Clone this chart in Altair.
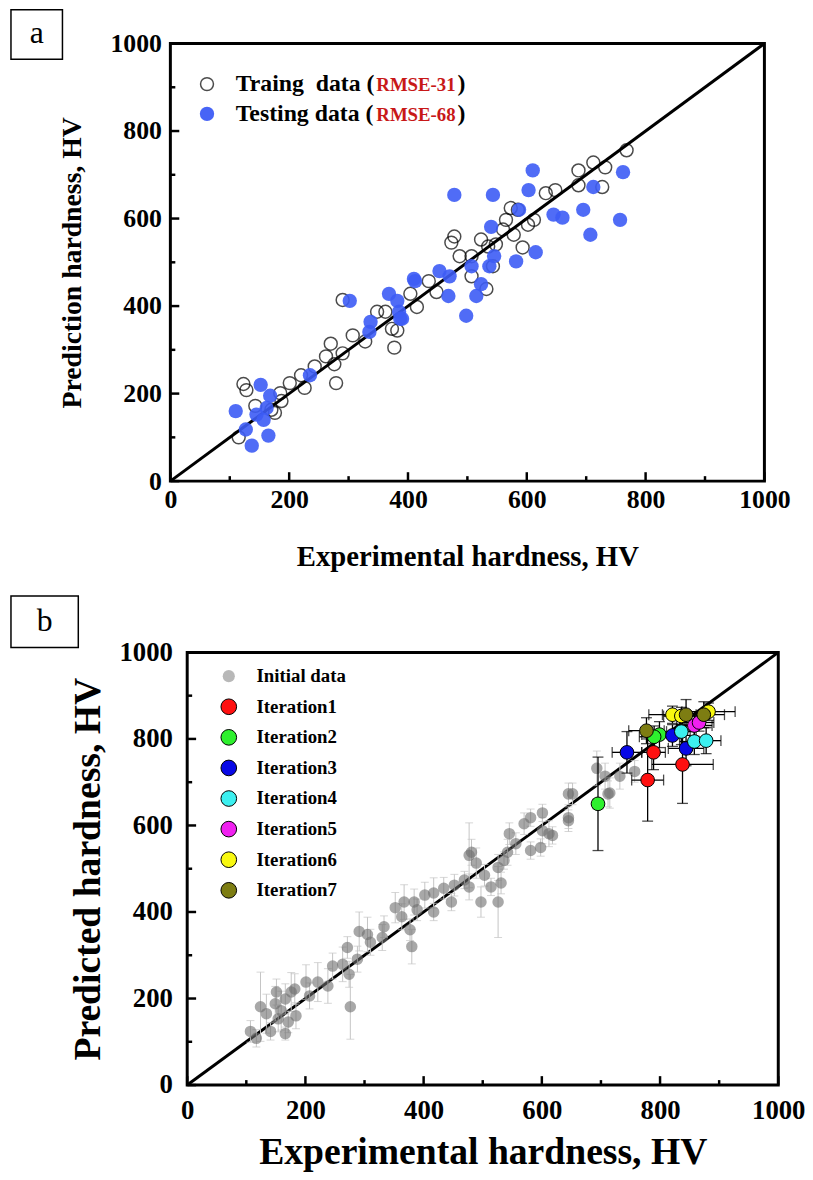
import altair as alt
import pandas as pd

FONT = "Liberation Serif"

# ---------------- Panel a data ----------------
train_x = [123, 128, 115, 143, 170, 176, 187, 185, 201, 226, 220, 243, 262, 270, 276, 279, 290, 290,
           307, 328, 348, 362, 373, 377, 382, 415, 404, 435, 448, 478, 473, 487, 507, 507, 523, 535,
           543, 532, 548, 565, 573, 578, 593, 602, 612, 632, 648, 687, 687, 712, 732, 727, 768, 585, 560]
train_y = [222, 208, 100, 172, 163, 156, 183, 201, 224, 213, 242, 262, 285, 314, 267, 224, 292, 414,
           333, 319, 387, 387, 348, 305, 344, 398, 428, 457, 432, 559, 545, 514, 514, 468, 552, 536,
           491, 439, 541, 597, 624, 563, 534, 586, 597, 658, 665, 710, 676, 728, 717, 672, 756, 620, 575]

test_x = [110, 127, 137, 152, 145, 157, 165, 168, 162, 235, 302, 337, 335, 368, 385, 387, 410, 382,
          390, 412, 453, 470, 468, 478, 498, 515, 523, 537, 545, 543, 540, 582, 615, 587, 603, 610,
          645, 660, 695, 707, 712, 762, 757, 507]
test_y = [160, 118, 81, 220, 152, 140, 104, 195, 167, 242, 412, 364, 341, 428, 387, 371, 462, 412,
          371, 457, 480, 468, 423, 654, 378, 423, 450, 491, 514, 654, 581, 502, 523, 620, 665, 710,
          609, 602, 620, 563, 672, 706, 597, 491]

legend_a_labels = ["Traing\u00a0\u00a0data (", "Testing data ("]
legend_a_rmse = ["RMSE-31", "RMSE-68"]

# ---------------- Panel b data ----------------
init_x = [107, 117, 124, 134, 141, 149, 154, 159, 166, 171, 166, 176, 184, 182, 151, 201, 207, 221,
          238, 246, 263, 271, 274, 276, 288, 291, 305, 310, 333, 330, 352, 367, 363, 377, 380, 384,
          389, 402, 417, 417, 434, 447, 452, 469, 477, 477, 489, 497, 503, 514, 526, 531, 526, 536,
          545, 542, 556, 570, 581, 598, 601, 618, 645, 652, 645, 612, 601, 581, 481, 712, 693, 707,
          732, 715, 757, 645]
init_y = [124, 108, 181, 165, 124, 188, 153, 172, 199, 146, 119, 215, 160, 222, 215, 238, 206, 238,
          229, 275, 279, 318, 256, 181, 291, 355, 348, 330, 366, 341, 410, 423, 389, 359, 320, 423,
          405, 439, 444, 400, 455, 423, 462, 474, 531, 458, 513, 423, 485, 458, 423, 467, 503, 519,
          581, 538, 558, 604, 542, 549, 588, 577, 611, 673, 618, 581, 629, 618, 538, 673, 732, 714,
          714, 675, 725, 673]
init_err = [25, 20, 80, 45, 20, 40, 30, 45, 35, 25, 15, 45, 30, 35, 30, 40, 30, 45,
            40, 30, 40, 25, 30, 75, 30, 45, 40, 30, 25, 30, 35, 40, 30, 25, 40, 30,
            25, 30, 35, 20, 25, 20, 25, 20, 75, 30, 35, 35, 25, 20, 82, 25, 30, 20,
            25, 30, 25, 25, 20, 20, 30, 20, 25, 25, 25, 30, 20, 20, 30, 30, 40, 30,
            30, 35, 25, 25]

iter_names = ["Iteration1", "Iteration2", "Iteration3", "Iteration4", "Iteration5", "Iteration6", "Iteration7"]
iter_colors = ["#ff1010", "#2ef02e", "#0808e6", "#3cf0f0", "#f020f0", "#f8f810", "#7d7d12"]
iter_x = [[779, 789, 838], [695, 799, 790], [744, 821, 844], [858, 878, 836],
          [858, 866], [821, 882, 836], [777, 844, 874]]
iter_y = [[705, 769, 741], [650, 810, 805], [769, 808, 778], [794, 796, 817],
          [831, 838], [856, 863, 853], [819, 856, 856]]
iter_xerr = [[27, 20, 52], [8, 30, 25], [25, 30, 30], [25, 25, 25],
             [30, 25], [40, 45, 30], [30, 40, 35]]
iter_yerr = [[95, 40, 90], [108, 30, 25], [48, 25, 40], [30, 30, 30],
             [25, 20], [20, 20, 20], [30, 35, 30]]

major_ticks = [0, 200, 400, 600, 800, 1000]
minor_ticks = [100, 300, 500, 700, 900]
diag = [0, 1000]

BLUE = "#3d5cf5"
GREY = "#6e6e6e"

one = pd.DataFrame({"a": [0]})


def txt(s, x, y, size, color="black", weight="bold", align="left", font=FONT):
    return alt.Chart(one).mark_text(text=s, font=font, fontSize=size, fontWeight=weight,
                                    color=color, align=align, baseline="middle").encode(
        x=alt.value(x), y=alt.value(y))


def axis(title, tsize, lsize, lpad, tpad, offset=0):
    return alt.Axis(values=major_ticks, format="d", title=title, labelFont=FONT, labelFontSize=lsize,
                    labelFontWeight="bold", labelColor="black", labelPadding=lpad, labelFlush=False,
                    labelOverlap=False, ticks=False, tickSize=0, domain=False, grid=False,
                    titleFont=FONT, titleFontSize=tsize, titleFontWeight="bold", titleColor="black",
                    titlePadding=tpad, offset=offset)


def tick_layers(sx, sy, ax, ay, H, x0):
    dmaj = pd.DataFrame({"v": major_ticks})
    dmin = pd.DataFrame({"v": minor_ticks})
    layers = []
    for d, L in ((dmaj, 9), (dmin, 5)):
        layers.append(alt.Chart(d).mark_rule(color="black", strokeWidth=2.5).encode(
            x=alt.X("v:Q", scale=sx, axis=ax), y=alt.value(H), y2=alt.value(H - L)))
        layers.append(alt.Chart(d).mark_rule(color="black", strokeWidth=2.5).encode(
            y=alt.Y("v:Q", scale=sy, axis=ay), x=alt.value(x0), x2=alt.value(x0 + L)))
    return layers


# ---------------- Panel a ----------------
WA, HA = 600, 442
sxa = alt.Scale(domain=[0, 1000], nice=False)
sya = alt.Scale(domain=[0, 1000], nice=False)
axa_x = axis("Experimental hardness, HV", 29, 26, 6, 30)
axa_y = axis("Prediction hardness, HV", 28, 26, 9, 24)


def XA(f):
    return alt.X(f, scale=sxa, axis=axa_x)


def YA(f):
    return alt.Y(f, scale=sya, axis=axa_y)


diag_a = alt.Chart(pd.DataFrame({"x": diag, "y": diag})).mark_line(color="black", strokeWidth=3).encode(
    x=XA("x:Q"), y=YA("y:Q"))
train = alt.Chart(pd.DataFrame({"x": train_x, "y": train_y})).mark_point(
    shape="circle", filled=False, color="black", size=170, strokeWidth=1.5).encode(x=XA("x:Q"), y=YA("y:Q"))
test = alt.Chart(pd.DataFrame({"x": test_x, "y": test_y})).mark_circle(
    color=BLUE, size=210, opacity=0.9).encode(x=XA("x:Q"), y=YA("y:Q"))

frame_a = alt.Chart(one).mark_rect(fillOpacity=0, stroke="black", strokeWidth=3).encode(
    x=alt.value(0), x2=alt.value(WA), y=alt.value(0), y2=alt.value(HA))

leg_a = [
    alt.Chart(one).mark_point(shape="circle", filled=False, color="black", size=170, strokeWidth=1.5).encode(
        x=alt.value(37), y=alt.value(41)),
    alt.Chart(one).mark_circle(color=BLUE, size=210, opacity=0.95).encode(x=alt.value(37), y=alt.value(71)),
]
for i, (lab, r) in enumerate(zip(legend_a_labels, legend_a_rmse)):
    yy = 41 + 30 * i
    leg_a += [txt(lab, 66, yy, 24), txt(r, 208, yy + 1, 19, color="#c81818"), txt(")", 290, yy, 24)]

box_a = [
    alt.Chart(one).mark_rect(fillOpacity=0, stroke="black", strokeWidth=1.5).encode(
        x=alt.value(-161), x2=alt.value(-109), y=alt.value(-34), y2=alt.value(16)),
    txt("a", -135, -11, 32, weight="normal", align="center"),
]

panel_a = alt.layer(diag_a, train, test, *tick_layers(sxa, sya, axa_x, axa_y, HA, 0), frame_a,
                    *leg_a, *box_a).properties(width=WA, height=HA)

# ---------------- Panel b ----------------
OFF = 17
WBP, HB = 597, 437
WB = WBP + OFF
sxb = alt.Scale(domain=[0, 1000], range=[OFF, WB], nice=False)
syb = alt.Scale(domain=[0, 1000], nice=False)
axb_x = axis("Experimental hardness, HV", 38, 27, 13, 10)
axb_y = axis("Predicted hardness, HV", 38, 27, 15, 12, offset=-OFF)


def XB(f):
    return alt.X(f, scale=sxb, axis=axb_x)


def YB(f):
    return alt.Y(f, scale=syb, axis=axb_y)


diag_b = alt.Chart(pd.DataFrame({"x": diag, "y": diag})).mark_line(color="black", strokeWidth=3).encode(
    x=XB("x:Q"), y=YB("y:Q"))

dinit = pd.DataFrame({"x": init_x, "y": init_y, "e": init_err})
dinit["lo"] = dinit["y"] - dinit["e"]
dinit["hi"] = dinit["y"] + dinit["e"]
init_bars = alt.Chart(dinit).mark_rule(color="#c4c4c4", strokeWidth=1).encode(
    x=XB("x:Q"), y=YB("lo:Q"), y2="hi:Q")
init_caps = alt.Chart(dinit).transform_fold(["lo", "hi"], as_=["k", "c"]).mark_tick(
    color="#c4c4c4", orient="horizontal", size=8, thickness=1).encode(x=XB("x:Q"), y=YB("c:Q"))
init_pts = alt.Chart(dinit).mark_circle(color=GREY, size=135, opacity=0.6).encode(x=XB("x:Q"), y=YB("y:Q"))

rows = []
for n, c, xs, ys, xe, ye in zip(iter_names, iter_colors, iter_x, iter_y, iter_xerr, iter_yerr):
    for a, b, ex, ey in zip(xs, ys, xe, ye):
        rows.append({"s": n, "c": c, "x": a, "y": b, "xlo": a - ex, "xhi": a + ex, "ylo": b - ey, "yhi": b + ey})
dit = pd.DataFrame(rows)

it_vbars = alt.Chart(dit).mark_rule(color="black", strokeWidth=1.3).encode(
    x=XB("x:Q"), y=YB("ylo:Q"), y2="yhi:Q")
it_hbars = alt.Chart(dit).mark_rule(color="black", strokeWidth=1.3).encode(
    y=YB("y:Q"), x=XB("xlo:Q"), x2="xhi:Q")
it_vcaps = alt.Chart(dit).transform_fold(["ylo", "yhi"], as_=["k", "c"]).mark_tick(
    color="black", orient="horizontal", size=11, thickness=1.3).encode(x=XB("x:Q"), y=YB("c:Q"))
it_hcaps = alt.Chart(dit).transform_fold(["xlo", "xhi"], as_=["k", "c"]).mark_tick(
    color="black", orient="vertical", size=11, thickness=1.3).encode(x=XB("c:Q"), y=YB("y:Q"))
it_pts = alt.Chart(dit).mark_circle(size=190, opacity=1, stroke="black", strokeWidth=1).encode(
    x=XB("x:Q"), y=YB("y:Q"), color=alt.Color("c:N", scale=None, legend=None))

frame_b = alt.Chart(one).mark_rect(fillOpacity=0, stroke="black", strokeWidth=3).encode(
    x=alt.value(OFF), x2=alt.value(WB), y=alt.value(0), y2=alt.value(HB))

leg_b = [alt.Chart(one).mark_circle(color="#b0b0b0", size=150, opacity=0.9).encode(
    x=alt.value(OFF + 42), y=alt.value(24)), txt("Initial data", OFF + 70, 24, 19)]
for i, (n, c) in enumerate(zip(iter_names, iter_colors)):
    yy = 24 + 30.9 * (i + 1)
    leg_b += [alt.Chart(one).mark_circle(color=c, size=250, opacity=1, stroke="black", strokeWidth=1).encode(
        x=alt.value(OFF + 42), y=alt.value(yy)), txt(n, OFF + 70, yy, 19)]

box_b = [
    alt.Chart(one).mark_rect(fillOpacity=0, stroke="black", strokeWidth=1.5).encode(
        x=alt.value(-161), x2=alt.value(-93), y=alt.value(-57), y2=alt.value(-5)),
    txt("b", -127, -32, 32, weight="normal", align="center"),
]

panel_b = alt.layer(diag_b, init_bars, init_caps, init_pts, it_vbars, it_hbars, it_vcaps, it_hcaps, it_pts,
                    *tick_layers(sxb, syb, axb_x, axb_y, HB, OFF), frame_b, *leg_b, *box_b).properties(
    width=WB, height=HB)

chart = alt.vconcat(panel_a, panel_b, spacing=24).properties(
    padding={"left": 2, "top": -5, "right": 0, "bottom": 0}, background="white"
).configure_view(stroke=None)

chart.save("out.html", embed_options={"renderer": "svg", "actions": False})
